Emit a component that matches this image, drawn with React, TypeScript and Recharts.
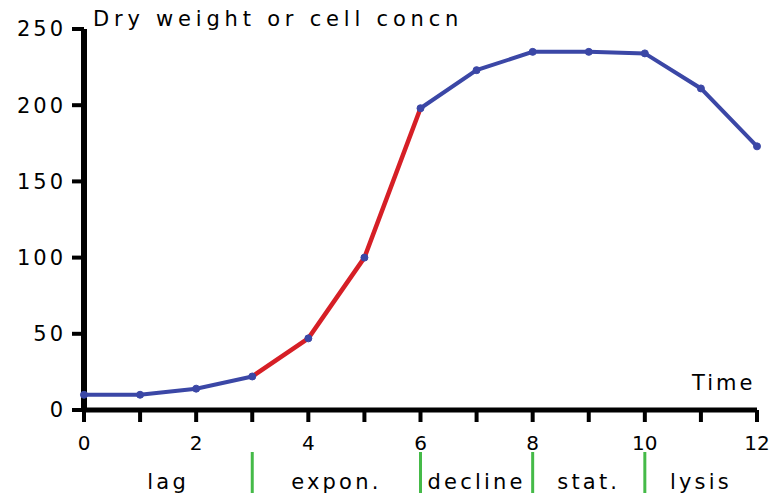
import React from 'react';
import { LineChart, Line, XAxis, YAxis } from 'recharts';

const times = [0, 1, 2, 3, 4, 5, 6, 7, 8, 9, 10, 11, 12];
const growth = [10, 10, 14, 22, 47, 100, 198, 223, 235, 235, 234, 211, 173];
const yTicks = [0, 50, 100, 150, 200, 250];
const expStart = 3;
const expEnd = 6;
const phaseNames = ['lag', 'expon.', 'decline', 'stat.', 'lysis'];
const phaseBounds = [0, 3, 6, 8, 10, 12];

const BLUE = '#3b47a6';
const RED = '#d61f26';
const GREEN = '#45ba48';
const FONT = '"DejaVu Sans", sans-serif';

const rows = times.map((t, i) => ({
  t,
  all: growth[i],
  blue: t <= expStart || t >= expEnd ? growth[i] : null,
  red: t >= expStart && t <= expEnd ? growth[i] : null,
}));

const innerBounds = phaseBounds.slice(1, -1);
const phaseMids = phaseNames.map((_, i) => (phaseBounds[i] + phaseBounds[i + 1]) / 2);
const phaseTicks = [...phaseMids, ...innerBounds].sort((a, b) => a - b);

const TimeTick = (props: any) => {
  const { x, y, payload } = props;
  if (payload.value % 2 !== 0) return <g />;
  return (
    <text x={x} y={y} dy={28} textAnchor="middle" fontSize={20} fontFamily={FONT} fill="#000">
      {payload.value}
    </text>
  );
};

const PhaseTick = (props: any) => {
  const { x, y, payload } = props;
  const v = payload.value;
  if (innerBounds.includes(v)) {
    return <line x1={x} x2={x} y1={y + 2} y2={y + 43} stroke={GREEN} strokeWidth={3} />;
  }
  const idx = phaseMids.indexOf(v);
  return (
    <text x={x} y={y + 39} textAnchor="middle" fontSize={21} fontFamily={FONT} fill="#000" style={{ letterSpacing: 3.2 }}>
      {phaseNames[idx]}
    </text>
  );
};

export default function App() {
  return (
    <div style={{ position: 'absolute', left: 0, top: 0, width: 770, height: 495, background: '#fff', fontFamily: FONT }}>
      <LineChart width={770} height={495} data={rows} margin={{ top: 29, right: 13, left: 0, bottom: 0 }}>
        <XAxis
          dataKey="t"
          type="number"
          domain={[0, 12]}
          ticks={times}
          height={40}
          tickSize={12}
          tickMargin={0}
          axisLine={{ stroke: '#000', strokeWidth: 5 }}
          tickLine={{ stroke: '#000', strokeWidth: 4 }}
          tick={<TimeTick />}
          interval={0}
        />
        <XAxis
          xAxisId="phase"
          dataKey="t"
          type="number"
          domain={[0, 12]}
          ticks={phaseTicks}
          height={45}
          tickSize={0}
          tickMargin={0}
          axisLine={false}
          tickLine={false}
          tick={<PhaseTick />}
          interval={0}
        />
        <YAxis
          type="number"
          domain={[0, 250]}
          ticks={yTicks}
          width={84}
          tickSize={12}
          tickMargin={6}
          axisLine={{ stroke: '#000', strokeWidth: 6 }}
          tickLine={{ stroke: '#000', strokeWidth: 4 }}
          tick={{ fontSize: 21, fontFamily: FONT, fill: '#000', style: { letterSpacing: 3 } }}
          interval={0}
        />
        <Line dataKey="blue" stroke={BLUE} strokeWidth={4} dot={false} isAnimationActive={false} connectNulls={false} />
        <Line dataKey="red" stroke={RED} strokeWidth={4.5} dot={false} isAnimationActive={false} connectNulls={false} />
        <Line
          dataKey="all"
          stroke="none"
          strokeWidth={0}
          dot={{ r: 3.5, fill: BLUE, stroke: BLUE, strokeWidth: 1 }}
          activeDot={false}
          isAnimationActive={false}
        />
      </LineChart>
      <div style={{ position: 'absolute', left: 93, top: 9, fontSize: 21, lineHeight: '21px', letterSpacing: 4.8, whiteSpace: 'nowrap' }}>
        Dry weight or cell concn
      </div>
      <div style={{ position: 'absolute', left: 692, top: 373, fontSize: 21, lineHeight: '21px', letterSpacing: 3, whiteSpace: 'nowrap' }}>
        Time
      </div>
    </div>
  );
}
